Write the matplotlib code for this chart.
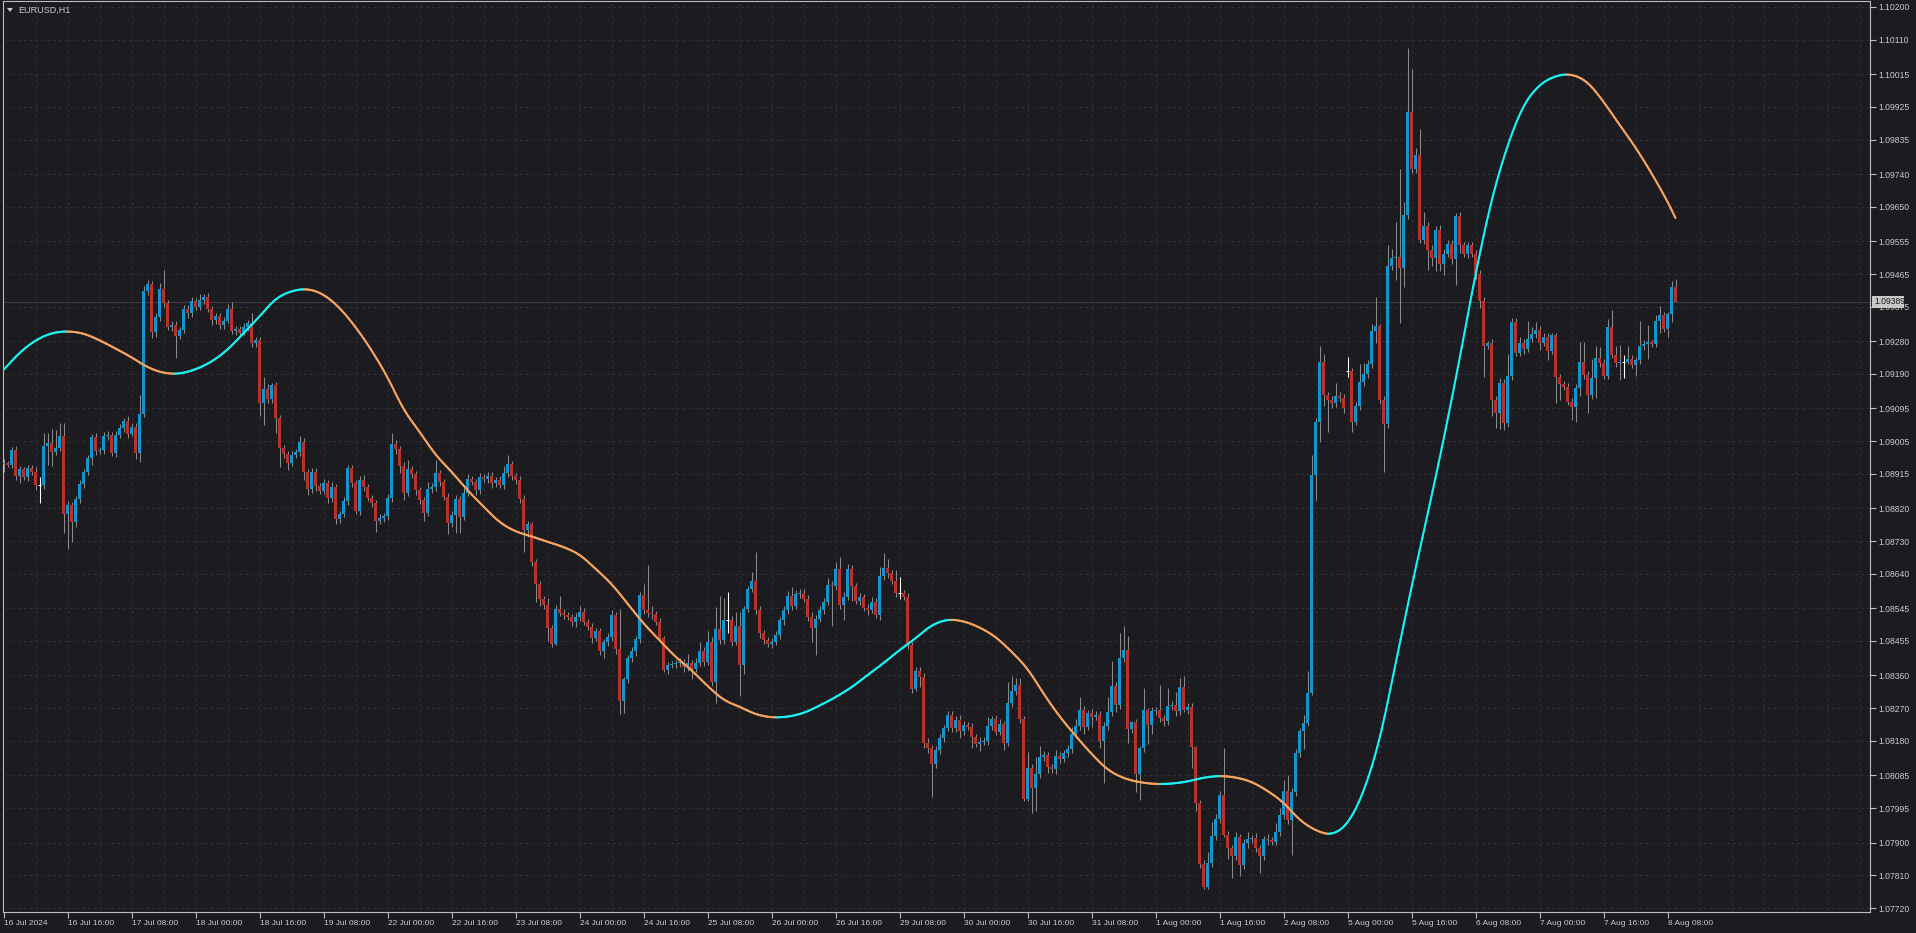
import numpy as np
import matplotlib
matplotlib.use('Agg')
import matplotlib.pyplot as plt
from matplotlib.collections import LineCollection
from matplotlib.patches import Rectangle, Polygon

# EURUSD H1, prices in points (1 point = 0.00001)
first_open = 108942
gap_opens = {336: 109197}

closes = [
    108944, 108940, 108981, 108910, 108928, 108907, 108930, 108921, 108884, 108884,
    108992, 108999, 108976, 108987, 109019, 108804, 108829, 108783, 108845, 108887,
    108921, 108958, 109016, 108978, 108981, 109019, 109022, 108973, 109022, 109040,
    109060, 109026, 109045, 108973, 109080, 109418, 109437, 109306, 109346, 109424,
    109384, 109320, 109325, 109295, 109311, 109369, 109357, 109390, 109375, 109393,
    109401, 109368, 109338, 109349, 109325, 109337, 109368, 109309, 109313, 109304,
    109318, 109329, 109274, 109283, 109111, 109148, 109121, 109159, 109068, 108987,
    108970, 108946, 108967, 108975, 109003, 108919, 108873, 108920, 108881, 108869,
    108889, 108848, 108878, 108790, 108804, 108840, 108930, 108889, 108814, 108898,
    108878, 108848, 108836, 108786, 108794, 108799, 108848, 108997, 108983, 108937,
    108863, 108927, 108914, 108870, 108843, 108806, 108872, 108878, 108916, 108893,
    108852, 108779, 108803, 108845, 108797, 108861, 108900, 108893, 108870, 108905,
    108900, 108909, 108889, 108898, 108884, 108916, 108941, 108909, 108898, 108846,
    108760, 108777, 108671, 108613, 108570, 108554, 108491, 108448, 108543, 108533,
    108526, 108520, 108506, 108520, 108535, 108508, 108494, 108464, 108482, 108428,
    108451, 108466, 108526, 108432, 108290, 108349, 108407, 108427, 108460, 108581,
    108540, 108531, 108528, 108508, 108462, 108375, 108388, 108391, 108393, 108396,
    108382, 108393, 108379, 108395, 108428, 108398, 108453, 108343, 108489, 108457,
    108514, 108514, 108453, 108496, 108388, 108544, 108597, 108620, 108540, 108476,
    108457, 108448, 108453, 108471, 108512, 108540, 108578, 108550, 108584, 108588,
    108571, 108522, 108492, 108516, 108540, 108563, 108609, 108605, 108653, 108554,
    108577, 108653, 108605, 108566, 108575, 108547, 108541, 108563, 108527, 108634,
    108657, 108641, 108621, 108586, 108586, 108577, 108444, 108323, 108372, 108357,
    108175, 108160, 108116, 108155, 108187, 108215, 108251, 108215, 108238, 108208,
    108224, 108219, 108190, 108172, 108178, 108180, 108221, 108239, 108205, 108226,
    108175, 108283, 108318, 108334, 108240, 108019, 108105, 108051, 108089, 108135,
    108141, 108107, 108102, 108139, 108130, 108146, 108157, 108199, 108221, 108265,
    108219, 108256, 108247, 108251, 108180, 108221, 108259, 108331, 108279, 108407,
    108430, 108213, 108231, 108089, 108160, 108265, 108224, 108261, 108264, 108242,
    108235, 108276, 108279, 108261, 108328, 108265, 108274, 108162, 108008, 107841,
    107777, 107843, 107918, 107964, 108031, 107921, 107884, 107862, 107915, 107837,
    107898, 107909, 107912, 107884, 107862, 107909, 107906, 107903, 107929, 107976,
    108042, 107961, 108039, 108146, 108206, 108230, 108312, 108913, 109058, 109224,
    109131, 109118, 109110, 109129, 109124, 109097, 109197, 109059, 109102, 109168,
    109189, 109217, 109308, 109323, 109118, 109052, 109486, 109508, 109513, 109481,
    109627, 109911, 109753, 109793, 109560, 109597, 109532, 109508, 109587, 109492,
    109521, 109548, 109505, 109624, 109544, 109521, 109544, 109521, 109466, 109391,
    109268, 109276, 109118, 109082, 109165, 109055, 109184, 109334, 109249, 109276,
    109260, 109287, 109300, 109312, 109276, 109292, 109254, 109297, 109181, 109163,
    109155, 109114, 109100, 109151, 109222, 109187, 109132, 109178, 109233, 109220,
    109185, 109318, 109243, 109220, 109224, 109224, 109231, 109215, 109227, 109267,
    109273, 109279, 109273, 109336, 109351, 109313, 109355, 109428, 109389,
]

upper_wick = [
    12, 5, 8, 10, 8, 6, 10, 8, 12, 21,
    35, 28, 40, 50, 35, 35, 10, 8, 10, 12,
    8, 10, 10, 12, 8, 10, 12, 8, 10, 12,
    10, 14, 10, 10, 52, 15, 12, 10, 12, 15,
    52, 10, 12, 10, 8, 12, 10, 12, 8, 18,
    10, 12, 8, 10, 8, 10, 14, 20, 10, 8,
    12, 10, 30, 10, 8, 34, 15, 5, 10, 10,
    8, 8, 10, 8, 15, 10, 8, 12, 10, 8,
    12, 10, 14, 8, 10, 12, 10, 8, 10, 12,
    14, 8, 10, 8, 10, 8, 12, 30, 10, 8,
    10, 25, 10, 8, 10, 8, 20, 12, 37, 10,
    8, 10, 10, 12, 10, 14, 15, 10, 8, 12,
    10, 12, 10, 8, 10, 20, 25, 10, 8, 10,
    10, 8, 5, 10, 8, 10, 20, 8, 10, 35,
    10, 10, 8, 12, 15, 10, 8, 10, 10, 8,
    10, 12, 15, 10, 110, 8, 10, 12, 10, 10,
    30, 125, 20, 10, 10, 8, 10, 8, 10, 12,
    10, 25, 10, 12, 25, 10, 30, 12, 60, 90,
    60, 76, 10, 40, 40, 8, 10, 25, 80, 10,
    10, 8, 10, 12, 10, 10, 15, 25, 12, 10,
    10, 10, 12, 10, 12, 10, 20, 10, 20, 32,
    12, 15, 10, 10, 12, 8, 10, 12, 10, 25,
    40, 25, 10, 30, 46, 10, 10, 8, 12, 10,
    10, 12, 8, 10, 12, 10, 10, 10, 10, 12,
    10, 8, 10, 10, 12, 10, 25, 10, 12, 15,
    10, 60, 40, 20, 20, 8, 45, 10, 48, 30,
    10, 8, 10, 15, 10, 10, 12, 20, 20, 35,
    10, 10, 12, 10, 10, 12, 43, 70, 10, 70,
    65, 40, 5, 10, 5, 60, 5, 12, 10, 69,
    10, 50, 10, 35, 25, 30, 10, 10, 5, 10,
    10, 30, 40, 15, 10, 130, 10, 10, 15, 10,
    12, 20, 10, 15, 10, 10, 15, 10, 25, 20,
    30, 44, 10, 12, 10, 20, 60, 55, 10, 44,
    20, 10, 12, 35, 10, 10, 39, 10, 10, 50,
    30, 10, 20, 79, 5, 10, 60, 25, 95, 240,
    36, 175, 118, 20, 70, 40, 10, 12, 10, 12,
    12, 10, 10, 10, 12, 10, 10, 8, 10, 10,
    12, 5, 10, 10, 15, 10, 60, 10, 10, 15,
    10, 50, 20, 20, 10, 10, 10, 5, 7, 10,
    8, 10, 10, 10, 55, 55, 10, 52, 34, 30,
    10, 23, 49, 25, 46, 18, 36, 10, 11, 70,
    10, 46, 5, 17, 26, 10, 5, 18, 22,
]

lower_wick = [
    22, 5, 10, 12, 20, 10, 12, 8, 14, 48,
    10, 53, 40, 10, 10, 53, 96, 55, 15, 10,
    12, 10, 20, 10, 8, 10, 12, 10, 12, 8,
    10, 12, 8, 16, 25, 8, 10, 18, 14, 10,
    10, 10, 12, 60, 10, 8, 12, 10, 10, 8,
    10, 8, 12, 10, 12, 10, 8, 10, 12, 10,
    8, 10, 10, 10, 37, 61, 10, 10, 40, 52,
    10, 20, 10, 8, 10, 20, 15, 10, 12, 10,
    10, 12, 10, 12, 10, 8, 10, 10, 10, 12,
    10, 8, 12, 30, 10, 12, 10, 10, 12, 20,
    20, 10, 10, 12, 10, 20, 8, 10, 10, 12,
    10, 30, 10, 50, 45, 10, 8, 10, 12, 10,
    8, 10, 12, 10, 8, 10, 10, 12, 10, 12,
    60, 20, 10, 50, 20, 10, 35, 10, 5, 10,
    10, 8, 10, 12, 10, 8, 10, 15, 10, 12,
    20, 10, 10, 12, 35, 33, 10, 10, 12, 10,
    10, 10, 12, 10, 10, 5, 10, 8, 10, 10,
    12, 10, 30, 10, 10, 12, 10, 12, 60, 10,
    10, 37, 12, 10, 85, 25, 10, 8, 10, 12,
    10, 10, 12, 10, 10, 12, 10, 10, 8, 10,
    10, 12, 40, 75, 10, 10, 10, 110, 10, 12,
    40, 10, 40, 10, 12, 10, 15, 10, 10, 15,
    10, 12, 10, 10, 15, 10, 12, 10, 5, 30,
    15, 12, 90, 10, 12, 10, 8, 10, 10, 20,
    12, 10, 30, 10, 20, 10, 10, 12, 10, 10,
    20, 10, 10, 12, 10, 5, 5, 69, 65, 10,
    10, 15, 10, 12, 10, 8, 10, 10, 12, 10,
    20, 10, 30, 10, 20, 116, 10, 10, 20, 10,
    10, 40, 10, 49, 72, 10, 52, 25, 10, 10,
    15, 10, 10, 12, 10, 5, 10, 57, 20, 12,
    5, 5, 10, 10, 10, 5, 30, 60, 10, 30,
    10, 12, 10, 10, 45, 10, 12, 10, 10, 10,
    12, 10, 96, 10, 10, 48, 10, 5, 70, 55,
    30, 87, 15, 10, 10, 15, 16, 28, 10, 10,
    10, 10, 12, 32, 10, 131, 10, 10, 60, 150,
    51, 10, 10, 10, 10, 12, 55, 20, 35, 20,
    30, 10, 12, 71, 20, 10, 12, 10, 15, 20,
    87, 10, 43, 40, 43, 20, 10, 12, 10, 10,
    15, 10, 10, 12, 20, 10, 25, 10, 72, 44,
    10, 10, 37, 43, 21, 10, 49, 10, 55, 10,
    10, 8, 10, 12, 46, 46, 7, 10, 30, 10,
    12, 41, 10, 10, 34, 7, 20, 21, 0,
]

# smoothed indicator, read every 4 bars (last one at bar 418)
curve_bars = list(range(0, 417, 4)) + [418]
curve_vals = [
    109201, 109249, 109283, 109303, 109308, 109302, 109283, 109260, 109236, 109208,
    109192, 109190, 109202, 109223, 109256, 109302, 109348, 109398, 109419, 109425,
    109410, 109373, 109320, 109256, 109182, 109091, 109031, 108967, 108921, 108870,
    108825, 108781, 108756, 108743, 108728, 108714, 108694, 108654, 108613, 108558,
    108503, 108457, 108411, 108375, 108331, 108292, 108274, 108253, 108244, 108246,
    108256, 108277, 108300, 108327, 108361, 108394, 108430, 108462, 108499, 108515,
    108510, 108493, 108467, 108426, 108380, 108310, 108247, 108194, 108144, 108100,
    108077, 108066, 108061, 108062, 108068, 108079, 108084, 108080, 108068, 108043,
    108011, 107962, 107933, 107920, 107949, 108036, 108178, 108391, 108604, 108802,
    109007, 109229, 109466, 109671, 109821, 109932, 109987, 110011, 110016, 109995,
    109940, 109876, 109814, 109743, 109665, 109619,
]

x_labels = ['16 Jul 2024', '16 Jul 16:00', '17 Jul 08:00', '18 Jul 00:00', '18 Jul 16:00',
            '19 Jul 08:00', '22 Jul 00:00', '22 Jul 16:00', '23 Jul 08:00', '24 Jul 00:00',
            '24 Jul 16:00', '25 Jul 08:00', '26 Jul 00:00', '26 Jul 16:00', '29 Jul 08:00',
            '30 Jul 00:00', '30 Jul 16:00', '31 Jul 08:00', '1 Aug 00:00', '1 Aug 16:00',
            '2 Aug 08:00', '5 Aug 00:00', '5 Aug 16:00', '6 Aug 08:00', '7 Aug 00:00',
            '7 Aug 16:00', '8 Aug 08:00']
y_labels = ['1.10200', '1.10110', '1.10015', '1.09925', '1.09835', '1.09740', '1.09650',
            '1.09555', '1.09465', '1.09375', '1.09280', '1.09190', '1.09095', '1.09005',
            '1.08915', '1.08820', '1.08730', '1.08640', '1.08545', '1.08455', '1.08360',
            '1.08270', '1.08180', '1.08085', '1.07995', '1.07900', '1.07810', '1.07720']
last_price = 1.09389

BG = '#1c1c20'
BULL = '#0d96cf'
BEAR = '#b8312a'
WICK = '#8a8a8a'
TXT = '#c6cad2'
W, H = 1916, 933

n = len(closes)
idx = np.arange(n)
c = np.array(closes) / 1e5
o = np.empty(n)
o[0] = first_open / 1e5
o[1:] = c[:-1]
for k, v in gap_opens.items():
    o[k] = v / 1e5
hi = np.maximum(o, c) + np.array(upper_wick) / 1e5
lo = np.minimum(o, c) - np.array(lower_wick) / 1e5
doji = o == c

fig = plt.figure(figsize=(W / 100, H / 100), dpi=100, facecolor=BG)
ax = fig.add_axes([3 / W, 21 / H, 1867 / W, 911 / H], facecolor=BG)

ax.set_xlim(-0.125, -0.125 + 1867 / 4)
ax.set_ylim(1.077090, 1.1021651)

# grid
yt = [float(s) for s in y_labels]
ax.hlines(yt, -1, 500, colors='#303036', linewidth=0.7, linestyles=(0, (3, 3)), zorder=0)
ax.vlines(np.arange(8, 467, 8), 1.0, 1.2, colors='#303036', linewidth=0.7,
          linestyles=(0, (3, 3)), zorder=0)
ax.axhline(last_price, color='#3c3c42', linewidth=0.7, zorder=1)

# candles
wick_col = np.where(doji, '#ffffff', WICK)
ax.vlines(idx, lo, hi, colors=wick_col, linewidth=0.75, zorder=2)
body_col = np.where(c >= o, BULL, BEAR)
height = np.maximum(np.abs(c - o), 0.000012)
bottom = np.minimum(o, c)
nd = ~doji
ax.bar(idx[nd], height[nd], bottom=bottom[nd], width=0.75, color=body_col[nd],
       linewidth=0, zorder=3)
ax.hlines(c[doji], idx[doji] - 0.375, idx[doji] + 0.375, colors='#ffffff',
          linewidth=0.75, zorder=3)

# indicator line: drawn as quadratic curves through the read points,
# cyan while rising and sandy orange while falling
px = np.array(curve_bars, dtype=float)
py = np.array(curve_vals) / 1e5
mx = (px[:-1] + px[1:]) / 2
my = (py[:-1] + py[1:]) / 2
t = np.linspace(0, 1, 12)
xs = [np.array([px[0], mx[0]])]
ys = [np.array([py[0], my[0]])]
for k in range(1, len(px) - 1):
    xs.append((1 - t) ** 2 * mx[k - 1] + 2 * (1 - t) * t * px[k] + t ** 2 * mx[k])
    ys.append((1 - t) ** 2 * my[k - 1] + 2 * (1 - t) * t * py[k] + t ** 2 * my[k])
xs.append(np.array([mx[-1], px[-1]]))
ys.append(np.array([my[-1], py[-1]]))
lx = np.concatenate(xs)
ly = np.concatenate(ys)
pts = np.column_stack([lx, ly])
segs = np.stack([pts[:-1], pts[1:]], axis=1)
seg_col = ['#19f2f2' if b >= a else '#f6a35f' for a, b in zip(ly[:-1], ly[1:])]
ax.add_collection(LineCollection(segs, colors=seg_col, linewidths=1.5, zorder=4,
                                 capstyle='round'))

# axes styling
for s in ax.spines.values():
    s.set_color('#bdbdbd')
    s.set_linewidth(0.8)
ax.set_xticks(np.arange(0, 16 * len(x_labels), 16))
ax.set_xticklabels(x_labels, ha='left')
ax.set_yticks(yt)
ax.set_yticklabels(y_labels)
ax.yaxis.tick_right()
ax.tick_params(axis='x', colors='#bdbdbd', labelcolor=TXT, labelsize=6, length=4,
               width=0.8, pad=1.5)
ax.tick_params(axis='y', colors='#bdbdbd', labelcolor=TXT, labelsize=6.2, length=4,
               width=0.8, pad=2)
for lab in ax.get_xticklabels():
    lab.set_family('Liberation Sans')
for lab in ax.get_yticklabels():
    lab.set_family('Liberation Sans')

# last price tag
fig.patches.append(Rectangle((1872 / W, (H - 308) / H), 32 / W, 12 / H,
                             transform=fig.transFigure, facecolor='#c8c8c8',
                             edgecolor='none', zorder=10))
fig.text(1874 / W, (H - 302) / H, '1.09389', fontsize=6.2, family='Liberation Sans',
         color='#1c1c20', va='center', ha='left', zorder=11)

# symbol caption
fig.patches.append(Polygon([[7 / W, (H - 8) / H], [13 / W, (H - 8) / H], [10 / W, (H - 12) / H]],
                           closed=True, transform=fig.transFigure, facecolor=TXT,
                           edgecolor='none', zorder=10))
fig.text(18 / W, (H - 10) / H, 'EURUSD,H1', fontsize=6.5, family='Liberation Sans',
         color=TXT, va='center', ha='left')

fig.savefig('out.png', dpi=100, facecolor=BG)
